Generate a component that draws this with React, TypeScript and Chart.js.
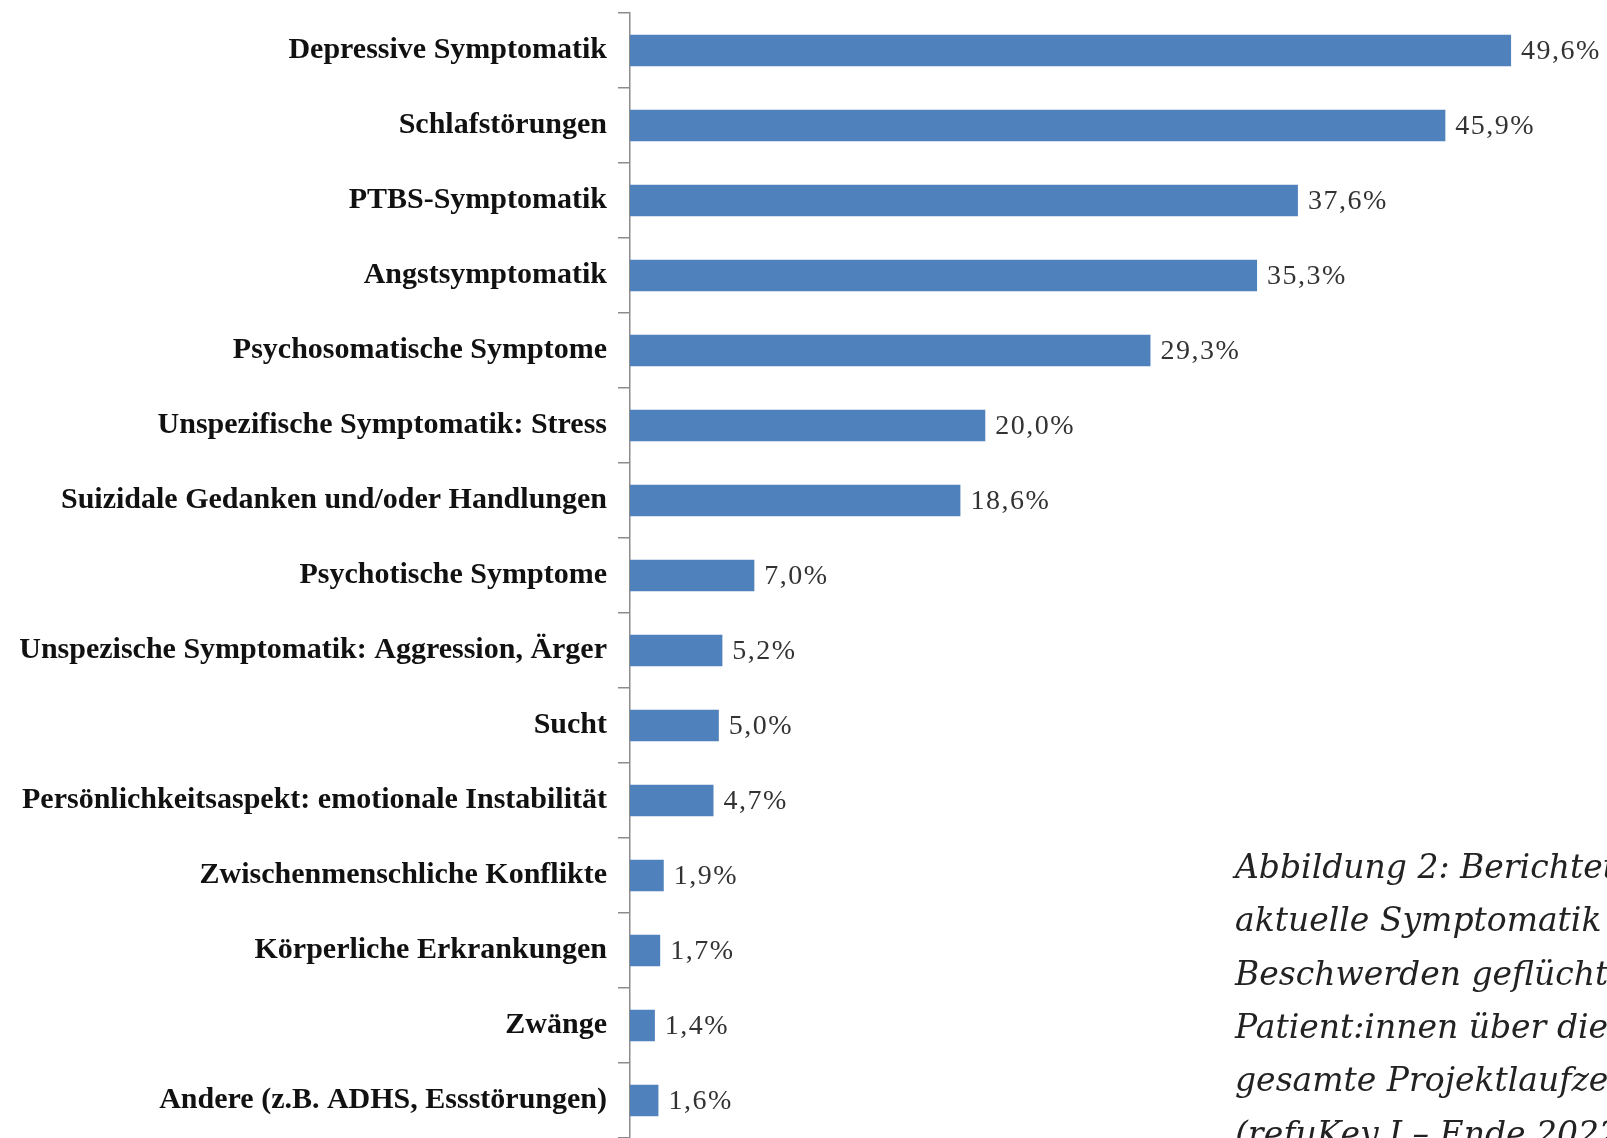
import React, { useEffect, useRef } from "react";
import { Chart, registerables } from "chart.js";

Chart.register(...registerables);

const categories = [
  "Depressive Symptomatik",
  "Schlafstörungen",
  "PTBS-Symptomatik",
  "Angstsymptomatik",
  "Psychosomatische Symptome",
  "Unspezifische Symptomatik: Stress",
  "Suizidale Gedanken und/oder Handlungen",
  "Psychotische Symptome",
  "Unspezische Symptomatik: Aggression, Ärger",
  "Sucht",
  "Persönlichkeitsaspekt: emotionale Instabilität",
  "Zwischenmenschliche Konflikte",
  "Körperliche Erkrankungen",
  "Zwänge",
  "Andere (z.B. ADHS, Essstörungen)",
];

const values = [49.6, 45.9, 37.6, 35.3, 29.3, 20.0, 18.6, 7.0, 5.2, 5.0, 4.7, 1.9, 1.7, 1.4, 1.6];

const captionLines = [
  "Abbildung 2: Berichtete",
  "aktuelle Symptomatik und",
  "Beschwerden geflüchteter",
  "Patient:innen über die",
  "gesamte Projektlaufzeit",
  "(refuKey I – Ende 2022)",
];

const fmt = (v: number) => v.toFixed(1).replace(".", ",") + "%";

const valueLabelPlugin = {
  id: "valueLabels",
  afterDatasetsDraw(chart: any) {
    const ctx = chart.ctx;
    const meta = chart.getDatasetMeta(0);
    ctx.save();
    ctx.font = '28px "Liberation Serif"';
    (ctx as any).letterSpacing = "1.5px";
    ctx.fillStyle = "#333333";
    ctx.textAlign = "left";
    ctx.textBaseline = "middle";
    meta.data.forEach((bar: any, i: number) => {
      ctx.fillText(fmt(values[i]), bar.x + 10, bar.y + 1);
    });
    ctx.restore();
  },
};

const captionPlugin = {
  id: "caption",
  afterDraw(chart: any) {
    const ctx = chart.ctx;
    ctx.save();
    ctx.font = 'italic 33px "DejaVu Serif"';
    ctx.fillStyle = "#222222";
    ctx.textAlign = "left";
    ctx.textBaseline = "alphabetic";
    captionLines.forEach((line, i) => {
      ctx.fillText(line, 1235, 878 + i * 53.3);
    });
    ctx.restore();
  },
};

export default function App() {
  const ref = useRef<HTMLCanvasElement | null>(null);

  useEffect(() => {
    if (!ref.current) return;
    const chart = new Chart(ref.current, {
      type: "bar",
      data: {
        labels: categories,
        datasets: [
          {
            data: values,
            backgroundColor: "#4f81bd",
            borderWidth: 0,
            barPercentage: 0.42,
            categoryPercentage: 1,
          },
        ],
      },
      options: {
        indexAxis: "y",
        animation: false,
        responsive: false,
        maintainAspectRatio: false,
        layout: { padding: { top: 13, right: 0, bottom: 0, left: 0 } },
        plugins: {
          legend: { display: false },
          tooltip: { enabled: false },
        },
        scales: {
          x: {
            display: false,
            min: 0,
            max: 55,
          },
          y: {
            afterFit: (scale: any) => {
              scale.width = 630;
              scale.paddingTop = 0;
              scale.paddingBottom = 0;
            },
            grid: {
              offset: true,
              drawOnChartArea: false,
              drawTicks: true,
              tickLength: 12,
              color: "#8c8c8c",
              lineWidth: 1.5,
            },
            border: { display: true, color: "#8c8c8c", width: 1.5 },
            ticks: {
              padding: 11,
              color: "#111111",
              font: { family: '"Liberation Serif"', size: 30, weight: "bold" },
              autoSkip: false,
            },
          },
        },
      },
      plugins: [valueLabelPlugin, captionPlugin],
    });
    return () => chart.destroy();
  }, []);

  return (
    <div style={{ position: "absolute", left: 0, top: 0, width: 1607, height: 1138, background: "#fff", overflow: "hidden" }}>
      <canvas ref={ref} width={1607} height={1138} style={{ width: 1607, height: 1138, display: "block" }} />
    </div>
  );
}
